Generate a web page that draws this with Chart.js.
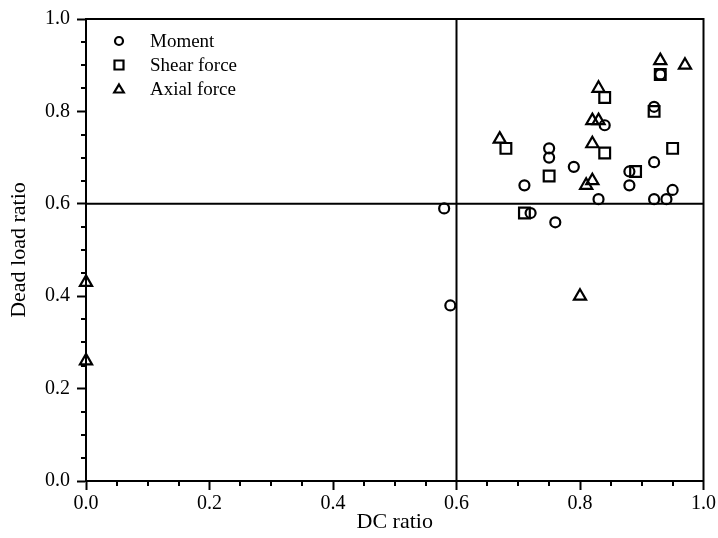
<!DOCTYPE html>
<html><head><meta charset="utf-8">
<script src="https://cdn.jsdelivr.net/npm/chart.js@4/dist/chart.umd.min.js"></script>
<style>html,body{margin:0;padding:0;background:#fff}#c{display:block}</style>
</head><body>
<canvas id="c" width="718" height="538"></canvas>
<script>
// ---- Data ----
const momentX = [0.93, 0.92, 0.84, 0.75, 0.75, 0.92, 0.79, 0.88, 0.71, 0.88, 0.83, 0.92, 0.94, 0.95, 0.72, 0.76, 0.58, 0.59];
const momentY = [0.88, 0.81, 0.77, 0.72, 0.70, 0.69, 0.68, 0.67, 0.64, 0.64, 0.61, 0.61, 0.61, 0.63, 0.58, 0.56, 0.59, 0.38];
const shearX  = [0.93, 0.84, 0.92, 0.68, 0.84, 0.95, 0.75, 0.89, 0.71];
const shearY  = [0.88, 0.83, 0.80, 0.72, 0.71, 0.72, 0.66, 0.67, 0.58];
const axialX  = [0.93, 0.97, 0.83, 0.82, 0.83, 0.67, 0.82, 0.82, 0.81, 0.80, 0.00, 0.00];
const axialY  = [0.91, 0.90, 0.85, 0.78, 0.78, 0.74, 0.73, 0.65, 0.64, 0.40, 0.43, 0.26];
const seriesNames = ['Moment', 'Shear force', 'Axial force'];
const xTickLabels = ['0.0', '0.2', '0.4', '0.6', '0.8', '1.0'];
const yTickLabels = ['0.0', '0.2', '0.4', '0.6', '0.8', '1.0'];
const refX = 0.6;
const refY = 0.6;

const pts = (xs, ys) => xs.map((x, i) => ({x: x, y: ys[i]}));
const FONT = "'Liberation Serif', 'Times New Roman', serif";

const decor = {
  id: 'decor',
  beforeDatasetsDraw(chart) {
    const {ctx, chartArea: a, scales: {x, y}} = chart;
    ctx.save();
    ctx.strokeStyle = '#000';
    ctx.lineWidth = 2;
    const px = x.getPixelForValue(refX), py = y.getPixelForValue(refY);
    ctx.beginPath();
    ctx.moveTo(px, a.top); ctx.lineTo(px, a.bottom);
    ctx.moveTo(a.left, py); ctx.lineTo(a.right, py);
    ctx.stroke();
    ctx.restore();
  },
  afterDraw(chart) {
    const {ctx, chartArea: a, scales: {x, y}} = chart;
    ctx.save();
    ctx.strokeStyle = '#000';
    ctx.lineWidth = 2;
    ctx.strokeRect(a.left, a.top, a.right - a.left, a.bottom - a.top);
    // minor ticks
    ctx.lineWidth = 2;
    ctx.beginPath();
    for (let k = 1; k < 20; k++) {
      if (k % 4 === 0) continue;
      const v = k * 0.05;
      const xp = Math.round(x.getPixelForValue(v));
      ctx.moveTo(xp, a.bottom); ctx.lineTo(xp, a.bottom + 5);
      const yp = Math.round(y.getPixelForValue(v));
      ctx.moveTo(a.left, yp); ctx.lineTo(a.left - 5, yp);
    }
    ctx.stroke();
    // legend
    const lx = 119, rows = [41, 65, 89];
    ctx.lineWidth = 2.2;
    ctx.fillStyle = '#000';
    ctx.font = '19px ' + FONT;
    ctx.textAlign = 'left';
    ctx.textBaseline = 'middle';
    rows.forEach((ry, i) => {
      ctx.beginPath();
      if (i === 0) {
        ctx.arc(lx, ry, 4, 0, Math.PI * 2);
      } else if (i === 1) {
        ctx.rect(lx - 4.5, ry - 4.5, 9, 9);
      } else {
        ctx.moveTo(lx, ry - 4.5); ctx.lineTo(lx + 4.8, ry + 3.5); ctx.lineTo(lx - 4.8, ry + 3.5); ctx.closePath();
      }
      ctx.stroke();
      ctx.fillText(seriesNames[i], 150, ry + 1);
    });
    ctx.restore();
  }
};

const common = {backgroundColor: 'rgba(0,0,0,0)', borderColor: '#000', borderWidth: 2.2, showLine: false, clip: false};

new Chart(document.getElementById('c'), {
  type: 'scatter',
  data: {
    datasets: [
      Object.assign({label: seriesNames[0], data: pts(momentX, momentY), pointStyle: 'circle', pointRadius: 5}, common),
      Object.assign({label: seriesNames[1], data: pts(shearX, shearY), pointStyle: 'rect', pointRadius: 7.6}, common),
      Object.assign({label: seriesNames[2], data: pts(axialX, axialY), pointStyle: 'triangle', pointRadius: 7}, common)
    ]
  },
  options: {
    responsive: false,
    animation: false,
    events: [],
    layout: {padding: {top: 17, right: 14, left: 0, bottom: 0}},
    plugins: {legend: {display: false}, tooltip: {enabled: false}},
    scales: {
      x: {
        type: 'linear', min: 0, max: 1,
        afterFit(s) { s.height = 57; },
        border: {display: true, color: '#000', width: 2},
        grid: {drawOnChartArea: false, drawTicks: true, tickLength: 9, tickColor: '#000', tickWidth: 2},
        ticks: {stepSize: 0.2, color: '#000', padding: 2, maxRotation: 0, font: {family: FONT, size: 20},
          callback: (v) => xTickLabels[Math.round(v / 0.2)]},
        title: {display: true, text: 'DC ratio', color: '#000', font: {family: FONT, size: 22}, padding: {top: 0, bottom: 3}}
      },
      y: {
        type: 'linear', min: 0, max: 1,
        afterFit(s) { s.width = 86; },
        border: {display: true, color: '#000', width: 2},
        grid: {drawOnChartArea: false, drawTicks: true, tickLength: 9, tickColor: '#000', tickWidth: 2},
        ticks: {stepSize: 0.2, color: '#000', padding: 7, font: {family: FONT, size: 20},
          callback: (v) => yTickLabels[Math.round(v / 0.2)]},
        title: {display: true, text: 'Dead load ratio', color: '#000', font: {family: FONT, size: 22}, padding: {top: 6, bottom: 0}}
      }
    }
  },
  plugins: [decor]
});
</script>
</body></html>
